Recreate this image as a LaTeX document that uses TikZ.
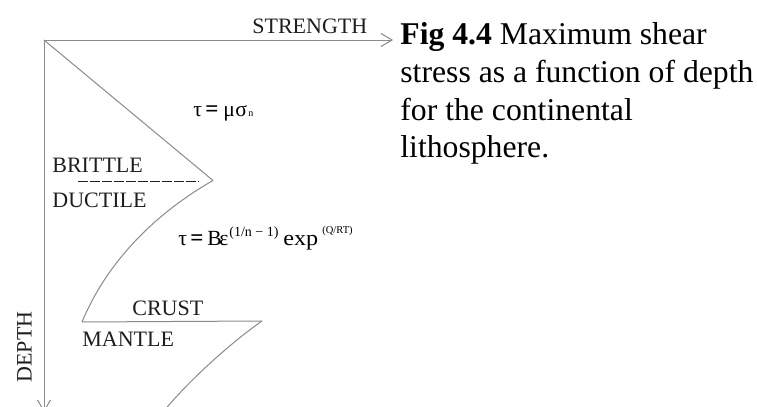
\documentclass[tikz,border=0pt]{standalone}
\usepackage{fontspec}
\setmainfont{Liberation Serif}
\usetikzlibrary{arrows.meta}
\definecolor{linegray}{HTML}{8A8A8A}
\definecolor{ink}{HTML}{1E1E1E}
\tikzset{
  axisline/.style={draw=linegray, line width=0.5pt, -{Straight Barb[length=5.5pt,width=6.5pt,line width=0.5pt]}},
  curve/.style={draw=linegray, line width=0.5pt},
  label/.style={inner sep=0pt, anchor=base west, text=ink, font=\fontsize{11pt}{13pt}\selectfont},
  caption/.style={inner sep=0pt, anchor=base west, text=black, font=\fontsize{15.85pt}{18pt}\selectfont},
  formula/.style={inner sep=0pt, anchor=base west, text=black},
  fmain/.style={formula, font=\fontsize{10.8pt}{12pt}\selectfont},
  feq/.style={formula, font=\fontsize{11.5pt}{13pt}\selectfont\bfseries},
  divider/.style={draw=ink, line width=0.5pt, dash pattern=on 4.8pt off 1.2pt}
}
\begin{document}
\begin{tikzpicture}[x=0.5pt,y=-0.5pt]
\useasboundingbox (0,0) rectangle (757,407);
\clip (0,0) rectangle (757,407);
% key points
\coordinate (O) at (44,40);
\coordinate (xend) at (393,40);
\coordinate (yend) at (44,412);
\coordinate (bdtip) at (213,180.5);
\coordinate (crustL) at (82,322);
\coordinate (crustR) at (262,321);
\coordinate (mantleEnd) at (158,418);
\coordinate (dashL) at (78,181.7);
\coordinate (dashR) at (199,181.7);
% axes
\draw[axisline] (O) -- (xend);
\draw[axisline] (O) -- (yend);
% strength envelope
\draw[curve] (O) -- (bdtip);
\draw[curve] (bdtip) .. controls (170,205) and (112,250) .. (crustL);
\draw[curve] (crustL) -- (crustR);
\draw[curve] (crustR) .. controls (236,339) and (190,378) .. (mantleEnd);
\draw[divider] (dashL) -- (dashR);
% labels
\node[label] (strength) at (252,33) {STRENGTH};
\node[label] (brittle) at (52,172) {BRITTLE};
\node[label] (ductile) at (52,207) {DUCTILE};
\node[label] (crust) at (132,315) {CRUST};
\node[label] (mantle) at (82,346) {MANTLE};
\node[inner sep=0pt, text=ink, font=\fontsize{11pt}{13pt}\selectfont, rotate=90] (depth) at (24.5,347) {DEPTH};
% formula 1: tau = mu sigma_n
\node[fmain] (f1tau) at (193,116) {τ};
\node[feq] (f1eq) at (205,116) {=};
\node[fmain] (f1mu) at (223,116) {μ};
\node[fmain] (f1sig) at (235,116) {σ};
\node[formula, font=\fontsize{5pt}{6pt}\selectfont] (f1n) at (248,117) {n};
% formula 2: tau = B eps^(1/n-1) exp^(Q/RT)
\node[fmain] (f2tau) at (178,245) {τ};
\node[feq] (f2eq) at (190,245) {=};
\node[fmain] (f2B) at (207,245) {B};
\node[fmain] (f2eps) at (219,245) {ε};
\node[formula, font=\fontsize{7pt}{8pt}\selectfont] (f2sup) at (229,236) {(1/n − 1)};
\node[fmain] (f2exp) at (283,245) {\scalebox{1.12}[1]{exp}};
\node[formula, font=\fontsize{5.25pt}{6pt}\selectfont] (f2sup2) at (322,234) {(Q/RT)};
% caption
\node[caption] (cap1) at (400,45) {\textbf{Fig 4.4} Maximum shear};
\node[caption] (cap2) at (400,83) {stress as a function of depth};
\node[caption] (cap3) at (400,120) {for the continental};
\node[caption] (cap4) at (400,157) {lithosphere.};
\end{tikzpicture}
\end{document}
